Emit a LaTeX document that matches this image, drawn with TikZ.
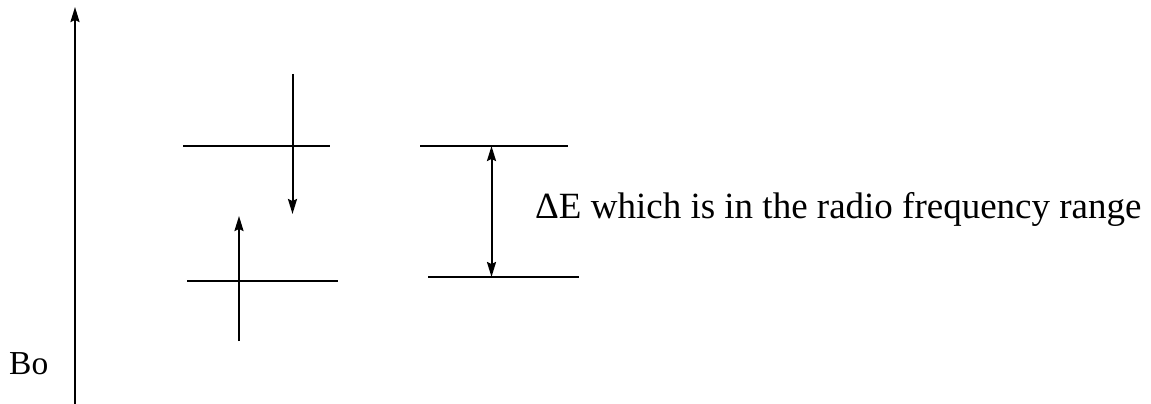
\documentclass[tikz,border=0pt]{standalone}
\usepackage{fontspec}
\setmainfont{Liberation Serif}
\usetikzlibrary{arrows.meta}
\begin{document}
\begin{tikzpicture}[x=1pt,y=-1pt,
  line/.style={line width=2pt},
  tip/.style={-{Stealth[length=15pt,width=9pt,inset=2pt]}},
  lbl/.style={inner sep=0pt,anchor=base west}]
\useasboundingbox (0,0) rectangle (1151,404);
% field axis
\coordinate (ab) at (75,404);
\coordinate (at) at (75,7);
\draw[line,tip] (ab) -- (at);
\node[lbl,font=\fontsize{33.5}{38}\selectfont] (bo) at (9,374) {Bo};
% left levels
\coordinate (l1a) at (183,146); \coordinate (l1b) at (330,146);
\draw[line] (l1a) -- (l1b);
\coordinate (l2a) at (187,281); \coordinate (l2b) at (338,281);
\draw[line] (l2a) -- (l2b);
\coordinate (d1) at (292.5,74); \coordinate (d2) at (292.5,214);
\draw[line,tip] (d1) -- (d2);
\coordinate (u1) at (239,341); \coordinate (u2) at (239,216);
\draw[line,tip] (u1) -- (u2);
% right levels
\coordinate (r1a) at (420,146); \coordinate (r1b) at (568,146);
\draw[line] (r1a) -- (r1b);
\coordinate (r2a) at (428,277); \coordinate (r2b) at (579,277);
\draw[line] (r2a) -- (r2b);
\coordinate (g1) at (491.5,146); \coordinate (g2) at (491.5,277);
\draw[line,{Stealth[length=15pt,width=9pt,inset=2pt]}-{Stealth[length=15pt,width=9pt,inset=2pt]}] (g1) -- (g2);
\node[lbl,font=\fontsize{37}{42}\selectfont] (de) at (535,218) {ΔE which is in the radio frequency range};
\end{tikzpicture}
\end{document}
